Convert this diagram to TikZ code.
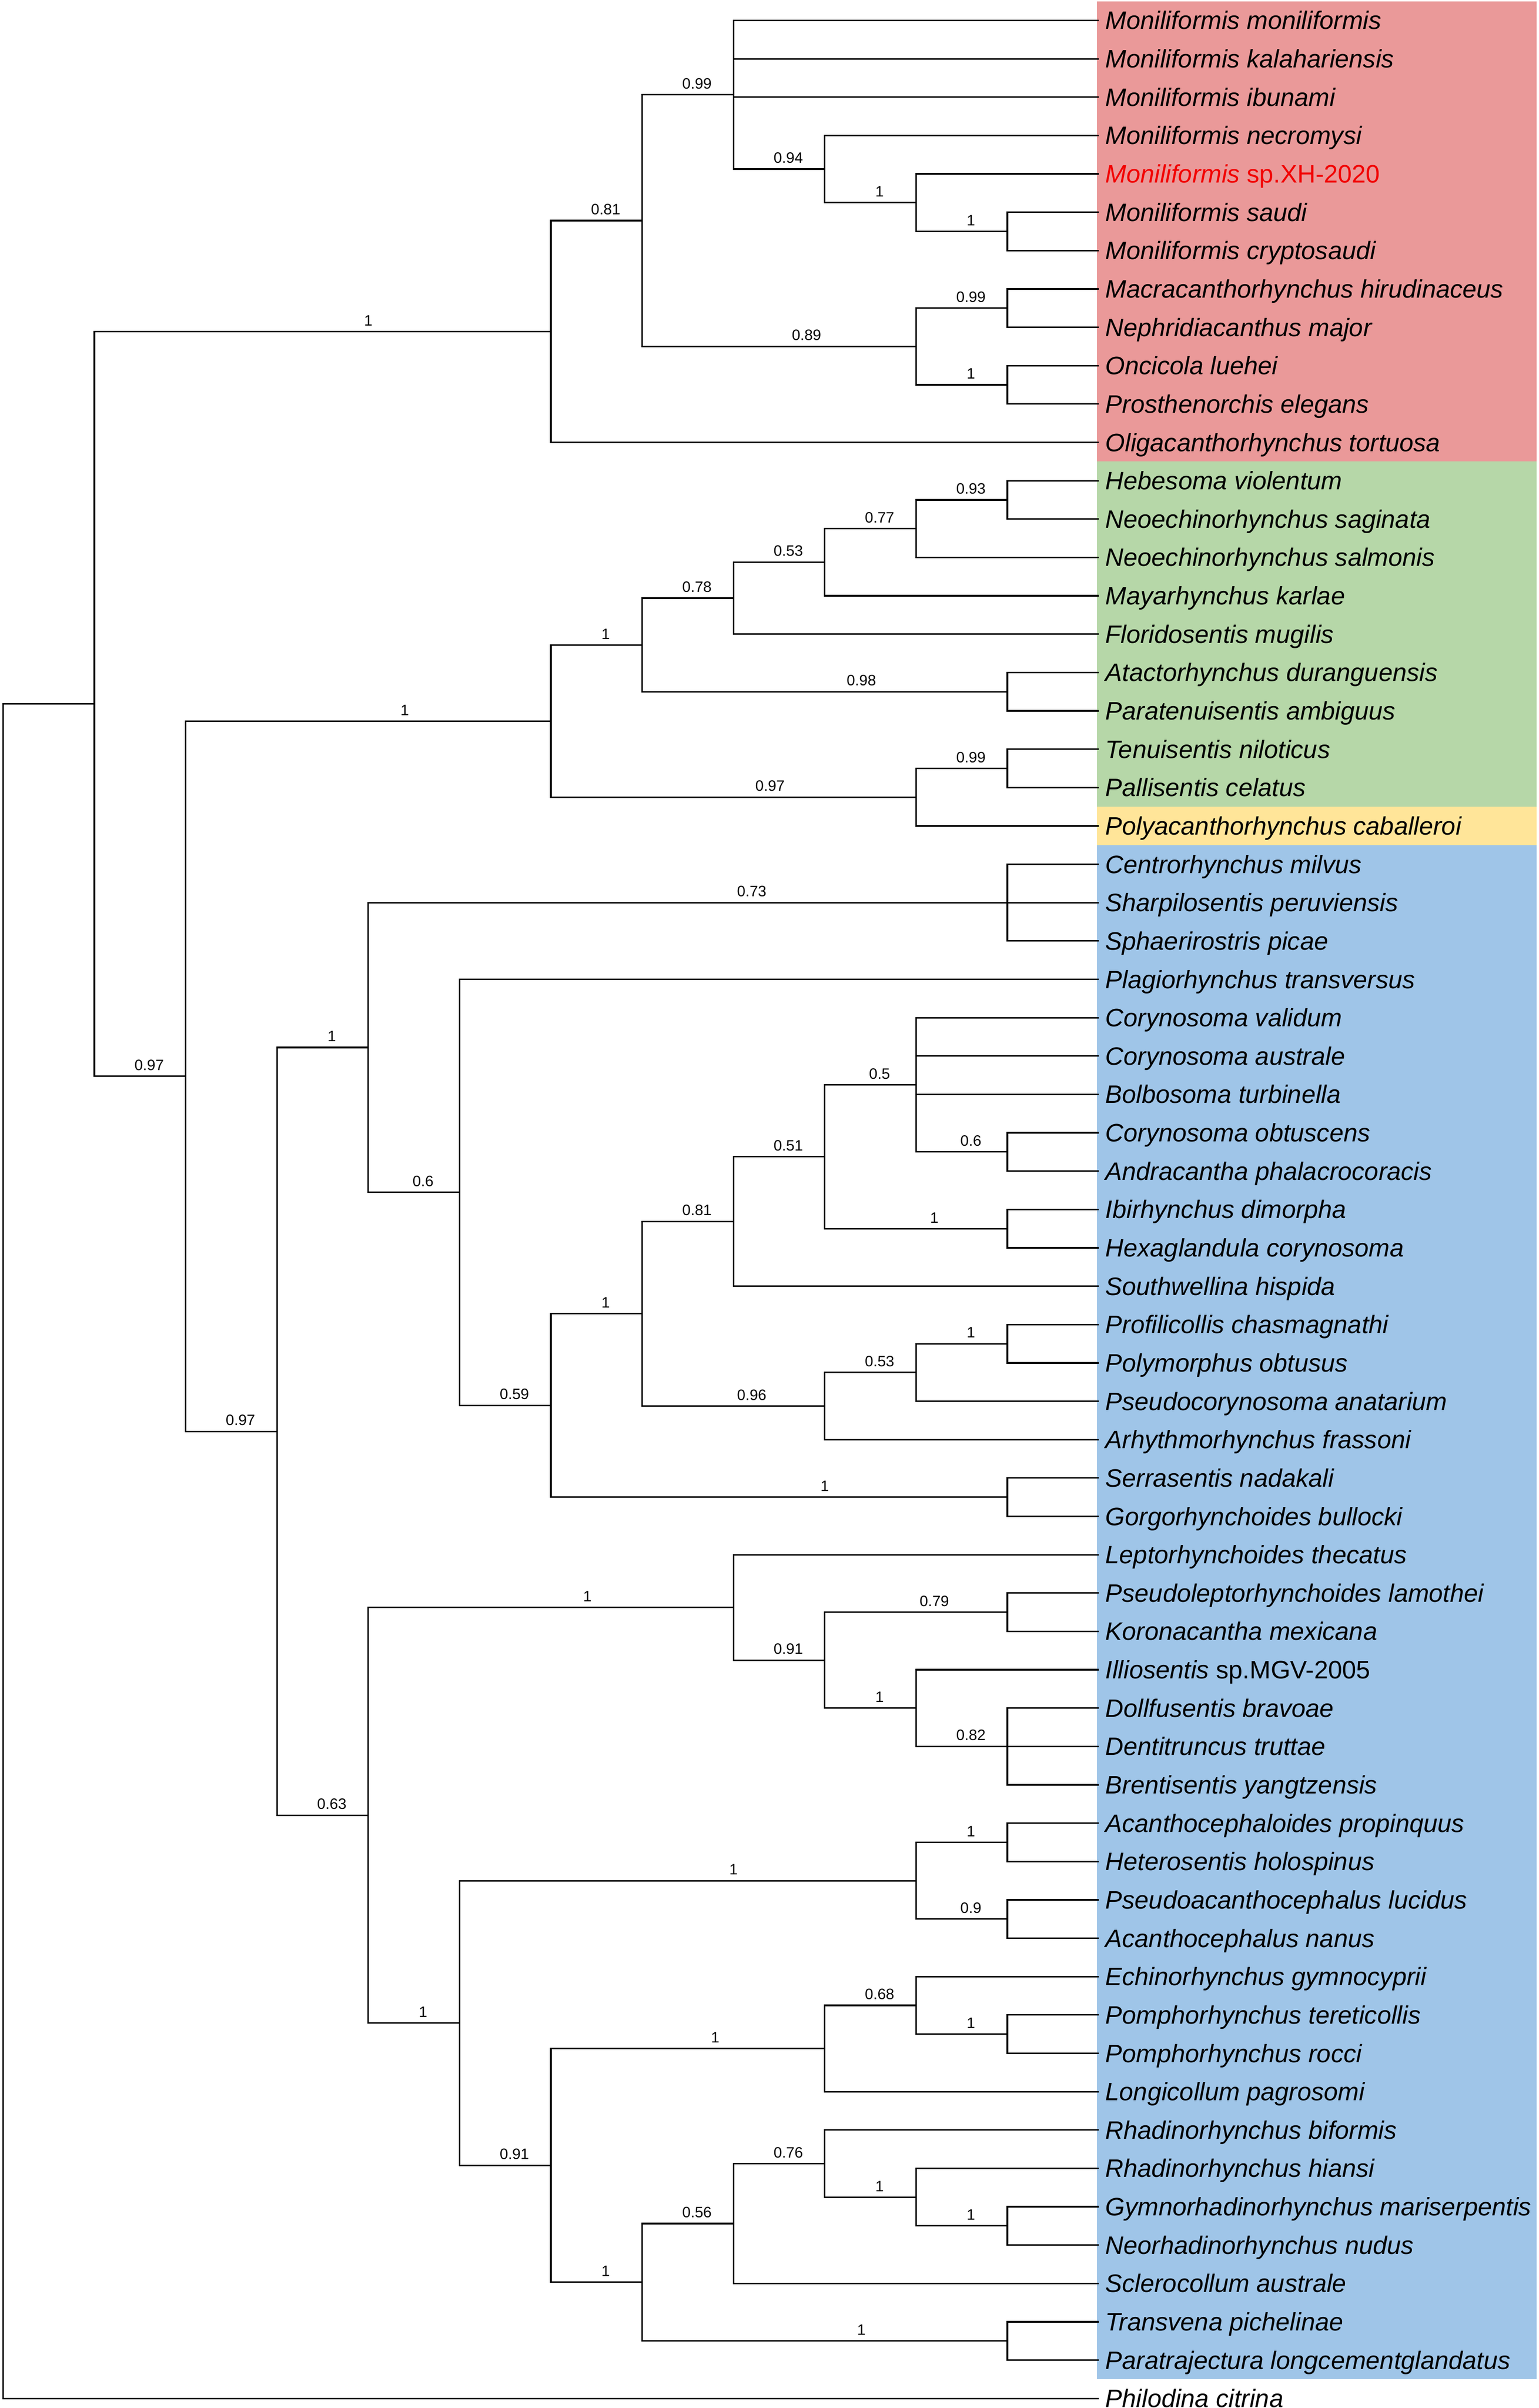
\documentclass[tikz,border=0pt]{standalone}
\usepackage{fontspec}
\setmainfont{Liberation Sans}
\usepackage{xcolor}
\usepackage{tikz}
\usetikzlibrary{calc}
\definecolor{archred}{HTML}{EA9999}
\definecolor{eoagreen}{HTML}{B6D7A8}
\definecolor{polyyellow}{HTML}{FFE599}
\definecolor{palblue}{HTML}{9FC5E8}
\definecolor{newred}{HTML}{F20000}

% clade node: name, level, first child, last child
\newcommand{\cladenode}[4]{%
  \coordinate (mid) at ($(#3)!.5!(#4)$);
  \coordinate (#1) at (lv#2 |- mid);}

\begin{document}
\begin{tikzpicture}[x=1pt,y=-1pt,
    branch/.style={line width=1pt},
    supp/.style={pos=0.8,anchor=south,inner sep=0pt,yshift=3.3pt,font=\fontsize{9.8}{11}\selectfont},
    tip/.style={anchor=base west,inner sep=0pt,xshift=4.2pt,yshift=-5.8pt,font=\fontsize{16.4}{19}\selectfont\itshape}]
    \useasboundingbox (0,0) rectangle (1001,1566.4);

    % clade bands
    \fill[archred] (713.6,0.8) rectangle (999.6,300.2);
    \fill[eoagreen] (713.6,300.2) rectangle (999.6,524.8);
    \fill[polyyellow] (713.6,524.8) rectangle (999.6,549.8);
    \fill[palblue] (713.6,549.8) rectangle (999.6,1547.7);

    % levels and tips
    \foreach \k in {0,...,12} \coordinate (lv\k) at ({2+59.4*\k},0);
    \foreach \i in {1,...,63} \coordinate (t\i) at (714.8,{13.3+24.95*(\i-1)});

    % Archiacanthocephala
    \cladenode{m67}{11}{t6}{t7}
    \cladenode{m5}{10}{t5}{m67}
    \cladenode{m4}{9}{t4}{m5}
    \cladenode{mon}{8}{t1}{m4}
    \cladenode{mac}{11}{t8}{t9}
    \cladenode{onc}{11}{t10}{t11}
    \cladenode{mo}{10}{mac}{onc}
    \cladenode{r2}{7}{mon}{mo}
    \cladenode{arch}{6}{r2}{t12}
    % Eoacanthocephala
    \cladenode{h1}{11}{t13}{t14}
    \cladenode{h2}{10}{h1}{t15}
    \cladenode{h3}{9}{h2}{t16}
    \cladenode{h4}{8}{h3}{t17}
    \cladenode{ata}{11}{t18}{t19}
    \cladenode{h5}{7}{h4}{ata}
    \cladenode{tp}{11}{t20}{t21}
    \cladenode{tpp}{10}{tp}{t22}
    \cladenode{eoa}{6}{h5}{tpp}
    % Palaeacanthocephala
    \cladenode{ce}{11}{t23}{t25}
    \cladenode{co6}{11}{t30}{t31}
    \cladenode{co5}{10}{t27}{co6}
    \cladenode{ib}{11}{t32}{t33}
    \cladenode{co4}{9}{co5}{ib}
    \cladenode{co3}{8}{co4}{t34}
    \cladenode{pr}{11}{t35}{t36}
    \cladenode{pr2}{10}{pr}{t37}
    \cladenode{pr3}{9}{pr2}{t38}
    \cladenode{po}{7}{co3}{pr3}
    \cladenode{se}{11}{t39}{t40}
    \cladenode{po2}{6}{po}{se}
    \cladenode{pl}{5}{t26}{po2}
    \cladenode{b1}{4}{ce}{pl}
    \cladenode{le3}{11}{t42}{t43}
    \cladenode{dd}{11}{t45}{t47}
    \cladenode{il}{10}{t44}{dd}
    \cladenode{le2}{9}{le3}{il}
    \cladenode{le}{8}{t41}{le2}
    \cladenode{ac1}{11}{t48}{t49}
    \cladenode{ac2}{11}{t50}{t51}
    \cladenode{ac}{10}{ac1}{ac2}
    \cladenode{ec2}{11}{t53}{t54}
    \cladenode{ec1}{10}{t52}{ec2}
    \cladenode{ec}{9}{ec1}{t55}
    \cladenode{rh4}{11}{t58}{t59}
    \cladenode{rh3}{10}{t57}{rh4}
    \cladenode{rh2}{9}{t56}{rh3}
    \cladenode{rh}{8}{rh2}{t60}
    \cladenode{tr}{11}{t61}{t62}
    \cladenode{rh1}{7}{rh}{tr}
    \cladenode{ec0}{6}{ec}{rh1}
    \cladenode{acec}{5}{ac}{ec0}
    \cladenode{b2}{4}{le}{acec}
    \cladenode{pal}{3}{b1}{b2}
    % backbone
    \cladenode{gb}{2}{eoa}{pal}
    \cladenode{ing}{1}{arch}{gb}
    \cladenode{root}{0}{ing}{t63}

    % branches
    \draw[branch] (m67) |- (t6) (m67) |- (t7);
    \draw[branch] (m5) |- (t5) (m5) |- (m67) node[supp] {1};
    \draw[branch] (m4) |- (t4) (m4) |- (m5) node[supp] {1};
    \draw[branch] (mon) |- (t1) (mon) |- (t2) (mon) |- (t3) (mon) |- (m4) node[supp] {0.94};
    \draw[branch] (mac) |- (t8) (mac) |- (t9);
    \draw[branch] (onc) |- (t10) (onc) |- (t11);
    \draw[branch] (mo) |- (mac) node[supp] {0.99} (mo) |- (onc) node[supp] {1};
    \draw[branch] (r2) |- (mon) node[supp] {0.99} (r2) |- (mo) node[supp] {0.89};
    \draw[branch] (arch) |- (r2) node[supp] {0.81} (arch) |- (t12);

    \draw[branch] (h1) |- (t13) (h1) |- (t14);
    \draw[branch] (h2) |- (h1) node[supp] {0.93} (h2) |- (t15);
    \draw[branch] (h3) |- (h2) node[supp] {0.77} (h3) |- (t16);
    \draw[branch] (h4) |- (h3) node[supp] {0.53} (h4) |- (t17);
    \draw[branch] (ata) |- (t18) (ata) |- (t19);
    \draw[branch] (h5) |- (h4) node[supp] {0.78} (h5) |- (ata) node[supp] {0.98};
    \draw[branch] (tp) |- (t20) (tp) |- (t21);
    \draw[branch] (tpp) |- (tp) node[supp] {0.99} (tpp) |- (t22);
    \draw[branch] (eoa) |- (h5) node[supp] {1} (eoa) |- (tpp) node[supp] {0.97};

    \draw[branch] (ce) |- (t23) (ce) |- (t24) (ce) |- (t25);
    \draw[branch] (co6) |- (t30) (co6) |- (t31);
    \draw[branch] (co5) |- (t27) (co5) |- (t28) (co5) |- (t29) (co5) |- (co6) node[supp] {0.6};
    \draw[branch] (ib) |- (t32) (ib) |- (t33);
    \draw[branch] (co4) |- (co5) node[supp] {0.5} (co4) |- (ib) node[supp] {1};
    \draw[branch] (co3) |- (co4) node[supp] {0.51} (co3) |- (t34);
    \draw[branch] (pr) |- (t35) (pr) |- (t36);
    \draw[branch] (pr2) |- (pr) node[supp] {1} (pr2) |- (t37);
    \draw[branch] (pr3) |- (pr2) node[supp] {0.53} (pr3) |- (t38);
    \draw[branch] (po) |- (co3) node[supp] {0.81} (po) |- (pr3) node[supp] {0.96};
    \draw[branch] (se) |- (t39) (se) |- (t40);
    \draw[branch] (po2) |- (po) node[supp] {1} (po2) |- (se) node[supp] {1};
    \draw[branch] (pl) |- (t26) (pl) |- (po2) node[supp] {0.59};
    \draw[branch] (b1) |- (ce) node[supp] {0.73} (b1) |- (pl) node[supp] {0.6};

    \draw[branch] (le3) |- (t42) (le3) |- (t43);
    \draw[branch] (dd) |- (t45) (dd) |- (t46) (dd) |- (t47);
    \draw[branch] (il) |- (t44) (il) |- (dd) node[supp] {0.82};
    \draw[branch] (le2) |- (le3) node[supp] {0.79} (le2) |- (il) node[supp] {1};
    \draw[branch] (le) |- (t41) (le) |- (le2) node[supp] {0.91};
    \draw[branch] (ac1) |- (t48) (ac1) |- (t49);
    \draw[branch] (ac2) |- (t50) (ac2) |- (t51);
    \draw[branch] (ac) |- (ac1) node[supp] {1} (ac) |- (ac2) node[supp] {0.9};
    \draw[branch] (ec2) |- (t53) (ec2) |- (t54);
    \draw[branch] (ec1) |- (t52) (ec1) |- (ec2) node[supp] {1};
    \draw[branch] (ec) |- (ec1) node[supp] {0.68} (ec) |- (t55);
    \draw[branch] (rh4) |- (t58) (rh4) |- (t59);
    \draw[branch] (rh3) |- (t57) (rh3) |- (rh4) node[supp] {1};
    \draw[branch] (rh2) |- (t56) (rh2) |- (rh3) node[supp] {1};
    \draw[branch] (rh) |- (rh2) node[supp] {0.76} (rh) |- (t60);
    \draw[branch] (tr) |- (t61) (tr) |- (t62);
    \draw[branch] (rh1) |- (rh) node[supp] {0.56} (rh1) |- (tr) node[supp] {1};
    \draw[branch] (ec0) |- (ec) node[supp] {1} (ec0) |- (rh1) node[supp] {1};
    \draw[branch] (acec) |- (ac) node[supp] {1} (acec) |- (ec0) node[supp] {0.91};
    \draw[branch] (b2) |- (le) node[supp] {1} (b2) |- (acec) node[supp] {1};
    \draw[branch] (pal) |- (b1) node[supp] {1} (pal) |- (b2) node[supp] {0.63};

    \draw[branch] (gb) |- (eoa) node[supp] {1} (gb) |- (pal) node[supp] {0.97};
    \draw[branch] (ing) |- (arch) node[supp] {1} (ing) |- (gb) node[supp] {0.97};
    \draw[branch] (root) |- (ing) (root) |- (t63);

    % taxon names
    \foreach \i/\nm in {1/Moniliformis moniliformis, 2/Moniliformis kalahariensis,
        3/Moniliformis ibunami, 4/Moniliformis necromysi,
        5/{\textcolor{newred}{Moniliformis \textup{sp.XH-2020}}},
        6/Moniliformis saudi, 7/Moniliformis cryptosaudi,
        8/Macracanthorhynchus hirudinaceus, 9/Nephridiacanthus major,
        10/Oncicola luehei, 11/Prosthenorchis elegans,
        12/Oligacanthorhynchus tortuosa, 13/Hebesoma violentum,
        14/Neoechinorhynchus saginata, 15/Neoechinorhynchus salmonis,
        16/Mayarhynchus karlae, 17/Floridosentis mugilis,
        18/Atactorhynchus duranguensis, 19/Paratenuisentis ambiguus,
        20/Tenuisentis niloticus, 21/Pallisentis celatus,
        22/Polyacanthorhynchus caballeroi, 23/Centrorhynchus milvus,
        24/Sharpilosentis peruviensis, 25/Sphaerirostris picae,
        26/Plagiorhynchus transversus, 27/Corynosoma validum,
        28/Corynosoma australe, 29/Bolbosoma turbinella,
        30/Corynosoma obtuscens, 31/Andracantha phalacrocoracis,
        32/Ibirhynchus dimorpha, 33/Hexaglandula corynosoma,
        34/Southwellina hispida, 35/Profilicollis chasmagnathi,
        36/Polymorphus obtusus, 37/Pseudocorynosoma anatarium,
        38/Arhythmorhynchus frassoni, 39/Serrasentis nadakali,
        40/Gorgorhynchoides bullocki, 41/Leptorhynchoides thecatus,
        42/Pseudoleptorhynchoides lamothei, 43/Koronacantha mexicana,
        44/{Illiosentis \textup{sp.MGV-2005}},
        45/Dollfusentis bravoae, 46/Dentitruncus truttae,
        47/Brentisentis yangtzensis, 48/Acanthocephaloides propinquus,
        49/Heterosentis holospinus, 50/Pseudoacanthocephalus lucidus,
        51/Acanthocephalus nanus, 52/Echinorhynchus gymnocyprii,
        53/Pomphorhynchus tereticollis, 54/Pomphorhynchus rocci,
        55/Longicollum pagrosomi, 56/Rhadinorhynchus biformis,
        57/Rhadinorhynchus hiansi, 58/Gymnorhadinorhynchus mariserpentis,
        59/Neorhadinorhynchus nudus, 60/Sclerocollum australe,
        61/Transvena pichelinae, 62/Paratrajectura longcementglandatus,
        63/Philodina citrina}
      \node[tip] (n\i) at (t\i) {\nm};
\end{tikzpicture}
\end{document}
